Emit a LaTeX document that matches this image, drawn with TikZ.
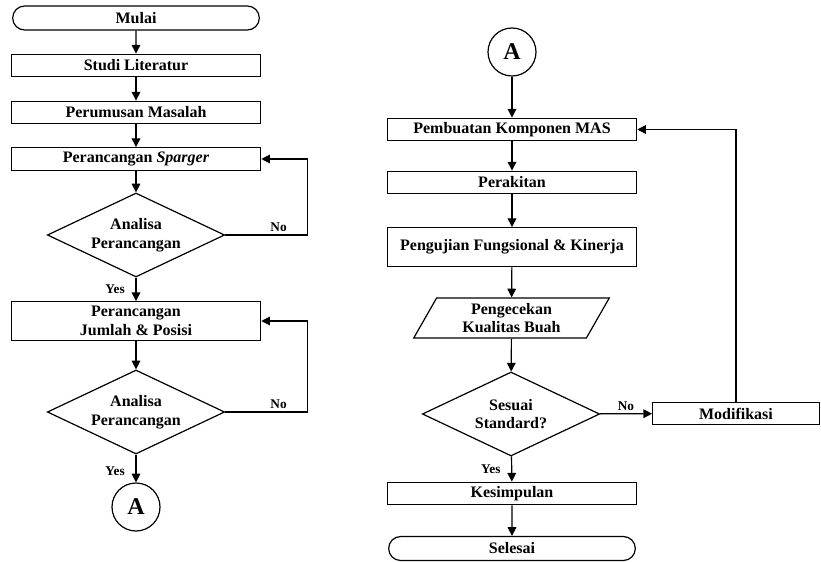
\documentclass[tikz,border=0pt]{standalone}
\usepackage{fontspec}
\setmainfont{Liberation Serif}
\usetikzlibrary{arrows.meta,positioning,shapes.geometric,shapes.misc}

\begin{document}
\begin{tikzpicture}[
  x=0.75pt, y=-0.75pt,
  >={Triangle[length=6.5pt,width=6.5pt]},
  font=\fontsize{12}{14}\selectfont\bfseries,
  box/.style={draw=black, line width=0.9pt, minimum width=187pt,
              minimum height=17pt, inner sep=1pt, align=center, fill=white},
  tallbox/.style={box, minimum height=29pt},
  term/.style={box, rounded rectangle, minimum height=18pt},
  decision/.style={draw=black, line width=0.9pt, diamond, aspect=2.1,
                   minimum width=133pt, minimum height=63pt, inner sep=0pt,
                   align=center, fill=white},
  io/.style={draw=black, line width=0.9pt, trapezium, trapezium stretches=true,
             trapezium left angle=63.4, trapezium right angle=116.6,
             minimum width=148pt, minimum height=30pt, inner sep=0pt,
             align=center, fill=white},
  konektor/.style={draw=black, line width=0.9pt, circle, minimum size=36pt,
                   inner sep=0pt, font=\fontsize{18}{18}\selectfont\bfseries},
  arr/.style={->, line width=0.9pt, draw=black},
  lbl/.style={font=\fontsize{10}{12}\selectfont\bfseries, inner sep=2pt},
  yes/.style={lbl, left, xshift=-6pt}
]
\useasboundingbox (0,0) rectangle (821,563);

% ==================== Left column ====================
\node[term] (mulai) at (136,18) {Mulai};
\node[box] (studi) at (136,65.5) {Studi Literatur};
\node[box] (rumus) at (136,112.5) {Perumusan Masalah};
\node[box] (sparger) at (136,159) {Perancangan \textit{Sparger}};
\node[decision] (analisa1) at (136,235) {Analisa\\Perancangan};
\node[tallbox] (jumlah) at (136,321) {Perancangan\\Jumlah \& Posisi};
\node[decision] (analisa2) at (136,412) {Analisa\\Perancangan};
\node[konektor] (konA) at (136,507) {A};

% ==================== Right column ===================
\node[konektor] (konB) at (512,52) {A};
\node[box] (buat) at (512,129.5) {Pembuatan Komponen MAS};
\node[box] (rakit) at (512,182.5) {Perakitan};
\node[tallbox] (uji) at (512,247) {Pengujian Fungsional \& Kinerja};
\node[io] (cek) at (511.5,318) {Pengecekan\\Kualitas Buah};
\node[decision] (sesuai) at (511,414) {Sesuai\\Standard?};
\node[box, minimum width=125pt] (modif) at (736,413.5) {Modifikasi};
\node[box] (kesimp) at (512,493.5) {Kesimpulan};
\node[term] (selesai) at (512,548.5) {Selesai};

% ==================== Flow ===========================
\draw[arr] (mulai) -- (studi);
\draw[arr] (studi) -- (rumus);
\draw[arr] (rumus) -- (sparger);
\draw[arr] (sparger) -- (analisa1);
\draw[arr] (analisa1) -- node[yes] {Yes} (jumlah);
\draw[arr] (analisa1.east) -- node[lbl, above, pos=0.65] {No} ++(82,0) |- (sparger.east);
\draw[arr] (jumlah) -- (analisa2);
\draw[arr] (analisa2) -- node[yes, pos=0.6] {Yes} (konA);
\draw[arr] (analisa2.east) -- node[lbl, above, pos=0.65] {No} ++(82,0) |- (jumlah.east);

\draw[arr] (konB) -- (buat);
\draw[arr] (buat) -- (rakit);
\draw[arr] (rakit) -- (uji);
\draw[arr] (uji) -- (cek);
\draw[arr] (cek) -- (sesuai);
\draw[arr] (sesuai) -- node[yes] {Yes} (kesimp);
\draw[arr] (sesuai) -- node[lbl, above] {No} (modif);
\draw[arr] (modif.north) |- (buat.east);
\draw[arr] (kesimp) -- (selesai);

\end{tikzpicture}
\end{document}
